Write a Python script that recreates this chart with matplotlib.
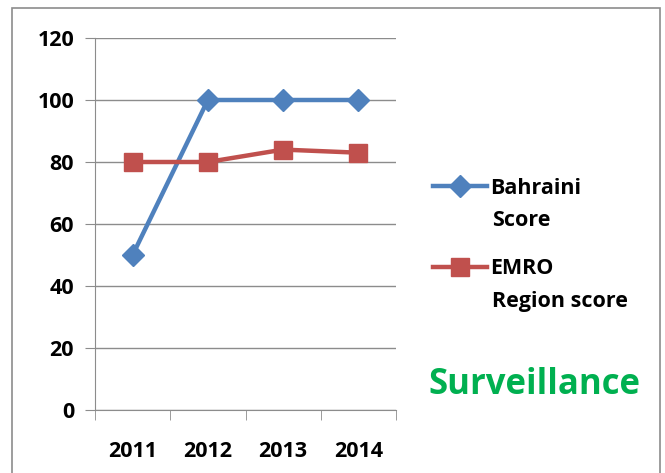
import matplotlib.pyplot as plt
import matplotlib.patches as patches
import numpy as np

years = ["2011", "2012", "2013", "2014"]
bahraini = [50, 100, 100, 100]
emro = [80, 80, 84, 83]

plt.rcParams['font.family'] = ['Open Sans', 'DejaVu Sans']
plt.rcParams['font.weight'] = 'bold'

fig = plt.figure(figsize=(6.65, 4.73), dpi=100)
# 外枠
fig.patches.append(patches.Rectangle((12 / 665, -0.05), 648 / 665, 1 - 8 / 473 + 0.05,
                                     transform=fig.transFigure, fill=False,
                                     edgecolor="#8c8c8c", linewidth=1.2))

ax = fig.add_axes([95 / 665, 63 / 473, 301 / 665, 372 / 473])
x = np.arange(len(years))
ax.plot(x, bahraini, color="#4F81BD", linewidth=3.2, marker="D", markersize=11.5,
        label="Bahraini")
ax.plot(x, emro, color="#C0504D", linewidth=3.2, marker="s", markersize=13,
        label="EMRO")

ax.set_xlim(-0.5, 3.5)
ax.set_ylim(0, 120)
ax.set_yticks(range(0, 121, 20))
ax.set_xticks(x)
ax.set_xticklabels(years, fontweight="bold")
ax.set_yticklabels([str(v) for v in range(0, 121, 20)], fontweight="bold")
ax.set_xticks(np.arange(-0.5, 4, 1), minor=True)
ax.tick_params(axis="x", which="major", length=0, pad=22, labelsize=15.5)
ax.tick_params(axis="x", which="minor", length=7, color="#8c8c8c", direction="out")
ax.tick_params(axis="y", length=7, color="#8c8c8c", labelsize=15.5, pad=8)
ax.yaxis.grid(True, color="#8c8c8c", linewidth=1)
ax.set_axisbelow(True)
for s in ["top", "right"]:
    ax.spines[s].set_visible(False)
for s in ["left", "bottom"]:
    ax.spines[s].set_color("#8c8c8c")

leg = ax.legend(loc="upper left", bbox_to_anchor=(433 / 665, 1 - 178 / 473),
                bbox_transform=fig.transFigure, frameon=False, borderaxespad=0,
                borderpad=0, prop={"size": 15.5, "weight": "bold"},
                handlelength=2.5, handletextpad=0.15, labelspacing=2.75)
# 凡例の2行目
fig.text(492 / 665, 1 - 221 / 473, "Score", fontsize=15.5, fontweight="bold",
         va="center", ha="left")
fig.text(492 / 665, 1 - 301 / 473, "Region score", fontsize=15.5, fontweight="bold",
         va="center", ha="left")

fig.text(534 / 665, 1 - 385 / 473, "Surveillance", color="#00B050",
         fontsize=25, fontweight="bold", ha="center", va="center")

fig.savefig("out.png", dpi=100)
